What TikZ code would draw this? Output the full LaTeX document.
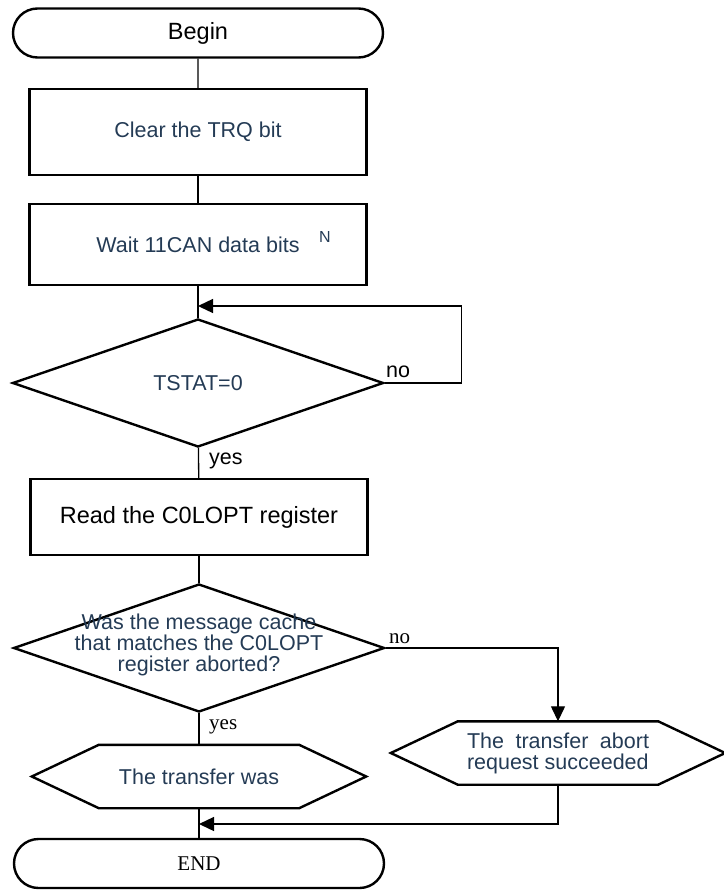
\documentclass[tikz,border=0pt]{standalone}
\usepackage{fontspec}
\setmainfont{Liberation Serif}
\setsansfont{Liberation Sans}
\usepackage{xcolor}
\usetikzlibrary{
    positioning,
    arrows.meta,
    shapes.geometric,
    shapes.misc,
}
\definecolor{textblue}{HTML}{243B55}
\tikzset{
    % Basic node styles
    terminal/.style={rounded rectangle, draw, line width=2.4pt, minimum width=370pt,
                     minimum height=49pt, inner sep=0pt},
    process/.style={rectangle, draw, line width=2.4pt, minimum width=337pt,
                    minimum height=84pt, align=center, inner sep=0pt},
    decision/.style={diamond, draw, line width=2.4pt, minimum width=371pt,
                     minimum height=128pt, inner sep=0pt},
    hexbox/.style={rectangle, minimum width=200pt, minimum height=63pt, inner sep=0pt},
    % Text styles
    sans/.style={font=\sffamily\fontsize{21.5}{21}\selectfont},
    big sans/.style={font=\sffamily\fontsize{23.5}{24}\selectfont},
    blue text/.style={sans, text=textblue},
    serif/.style={font=\rmfamily\fontsize{21}{21}\selectfont},
    % Arrow styles
    line/.style={line width=1.3pt},
    arrow/.style={line, -{Triangle[length=15pt, width=14pt]}},
    hex line/.style={line width=2.4pt, line join=miter},
}
\newcommand{\hexframe}[1]{%
    \draw[hex line] ([xshift=-67pt]#1.west) -- (#1.north west) -- (#1.north east)
        -- ([xshift=67pt]#1.east) -- (#1.south east) -- (#1.south west) -- cycle;}

\begin{document}
\begin{tikzpicture}[x=1pt, y=-1pt]
    \useasboundingbox (0,0) rectangle (723,891);

    % Begin
    \node[terminal, big sans] (begin) at (198, 33) {Begin};

    % Clear TRQ and wait
    \node[process, blue text, minimum height=86pt] (clear) at (198, 132) {Clear the TRQ bit};
    \node[process, blue text, minimum height=81pt] (wait) at (198, 244.5) {Wait 11CAN data bits};
    \node[text=textblue, font=\sffamily\fontsize{16}{16}\selectfont] (wait n) at (325, 237) {N};
    \draw[line] (begin) -- (clear);
    \draw[line] (clear) -- (wait);

    % TSTAT check
    \node[decision, blue text] (tstat) at (198, 383) {TSTAT=0};
    \coordinate (loop in) at (198, 306);
    \draw[line] (wait) -- (tstat);
    \draw[arrow] (tstat.east) -- ++(77,0) |- (loop in);
    \node[sans, anchor=south west, inner sep=1pt] (tstat no) at (385, 379) {no};

    % Read C0LOPT
    \node[process, big sans, minimum height=76pt] (read) at (199, 517) {Read the C0LOPT register};
    \draw[line] (tstat) -- (read);
    \node[sans, anchor=north west, inner sep=1pt] (tstat yes) at (208, 452) {yes};

    % Abort check
    \node[decision] (abort) at (199, 648) {};
    \node[blue text, align=center, inner sep=0pt] (abort text) at (199, 645)
        {Was the message cache\\that matches the C0LOPT\\register aborted?};
    \draw[line] (read) -- (abort);
    \node[serif, anchor=south west, inner sep=1pt] (abort no) at (388, 645) {no};

    % Results
    \node[hexbox, blue text, text width=182pt, align=justify] (ok) at (558, 753)
        {The transfer abort request succeeded};
    \hexframe{ok}
    \draw[arrow] (abort.east) -| (ok.north);

    \node[hexbox, blue text] (fail) at (199, 776.5) {The transfer was};
    \hexframe{fail}
    \draw[line] (abort) -- (fail);
    \node[serif, anchor=north west, inner sep=1pt] (abort yes) at (208, 718) {yes};

    % End
    \node[terminal, serif] (end) at (199, 863.5) {END};
    \coordinate (join) at (199, 824);
    \draw[line] (fail) -- (end);
    \draw[arrow] (ok.south) |- (join);
\end{tikzpicture}
\end{document}
